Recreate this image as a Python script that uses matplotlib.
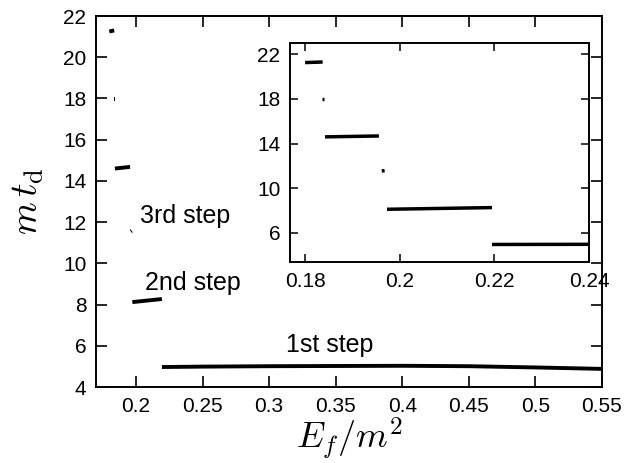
import matplotlib
matplotlib.use("Agg")
import matplotlib.pyplot as plt

plt.rcParams['font.family'] = ['Liberation Sans', 'DejaVu Sans']
plt.rcParams['mathtext.fontset'] = 'cm'

# step branches (E_f/m^2, m t_d)
step1_x = [0.2195, 0.25, 0.30, 0.35, 0.40, 0.45, 0.50, 0.55]
step1_y = [4.97, 4.99, 5.01, 5.02, 5.03, 5.01, 4.95, 4.88]
step2_x = [0.1973, 0.2195]
step2_y = [8.12, 8.27]
dot3_x = [0.1962, 0.1968]
dot3_y = [11.55, 11.58]
step3_x = [0.1842, 0.1956]
step3_y = [14.6, 14.68]
dot4_x = [0.1836, 0.1840]
dot4_y = [17.95, 17.95]
step5_x = [0.1800, 0.1837]
step5_y = [21.25, 21.3]

main_xticks = [0.2, 0.25, 0.3, 0.35, 0.4, 0.45, 0.5, 0.55]
main_xlabels = ['0.2', '0.25', '0.3', '0.35', '0.4', '0.45', '0.5', '0.55']
main_yticks = [4, 6, 8, 10, 12, 14, 16, 18, 20, 22]
inset_xticks = [0.18, 0.2, 0.22, 0.24]
inset_xlabels = ['0.18', '0.2', '0.22', '0.24']
inset_yticks = [6, 10, 14, 18, 22]

branches = [(step1_x, step1_y), (step2_x, step2_y), (dot3_x, dot3_y),
            (step3_x, step3_y), (dot4_x, dot4_y), (step5_x, step5_y)]

fig = plt.figure(figsize=(6.34, 4.63), dpi=100)
ax = fig.add_axes([0.1514, 0.1641, 0.7981, 0.8013])

for bx, by in branches:
    ax.plot(bx, by, 'k-', lw=2.8, solid_capstyle='butt')

ax.set_xlim(0.17, 0.55)
ax.set_ylim(4, 22)
ax.set_xticks(main_xticks)
ax.set_xticklabels(main_xlabels)
ax.set_yticks(main_yticks)
ax.tick_params(direction='in', length=8, width=1.2, top=True, right=True,
               labelsize=15, pad=7)
for sp in ax.spines.values():
    sp.set_linewidth(1.4)

ax.set_xlabel(r'$E_f/m^2$', fontsize=26, labelpad=0)
ax.set_ylabel(r'$m\,t_{\rm d}$', fontsize=27, labelpad=12)

ax.text(0.203, 11.96, '3rd step', fontsize=18)
ax.text(0.2067, 8.7, '2nd step', fontsize=18)
ax.text(0.313, 5.7, '1st step', fontsize=18)

# inset zoom of the upper branches
axin = fig.add_axes([0.4574, 0.4341, 0.4716, 0.473])
for bx, by in branches:
    axin.plot(bx, by, 'k-', lw=2.5, solid_capstyle='butt')
axin.set_xlim(0.1768, 0.24)
axin.set_ylim(3.4, 23.0)
axin.set_xticks(inset_xticks)
axin.set_xticklabels(inset_xlabels)
axin.set_yticks(inset_yticks)
axin.tick_params(direction='in', length=6, width=1.1, top=True, right=True,
                 labelsize=15, pad=7)
for sp in axin.spines.values():
    sp.set_linewidth(1.4)

fig.savefig('out.png', dpi=100)
